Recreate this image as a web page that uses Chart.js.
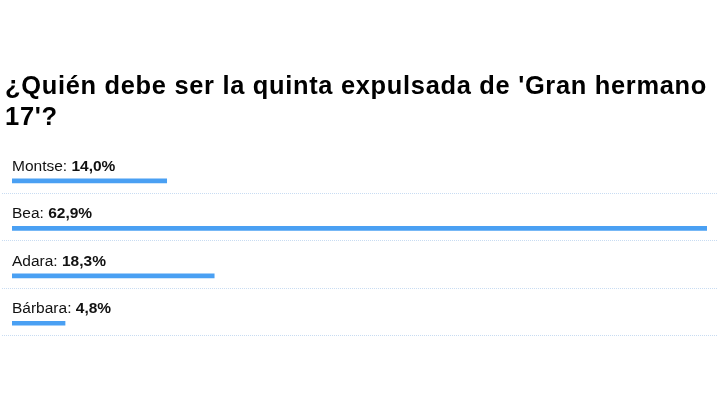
<!DOCTYPE html>
<html>
<head>
<meta charset="utf-8">
<script src="https://cdn.jsdelivr.net/npm/chart.js@4"></script>
<style>
html,body{margin:0;padding:0;background:#fff;}
#wrap{width:728px;height:400px;}
</style>
</head>
<body>
<div id="wrap"><canvas id="c" width="728" height="400"></canvas></div>
<script>
const titleLines = ["¿Quién debe ser la quinta expulsada de 'Gran hermano", "17'?"];
const categories = ["Montse", "Bea", "Adara", "Bárbara"];
const values = [14.0, 62.9, 18.3, 4.8];
const valueLabels = ["14,0%", "62,9%", "18,3%", "4,8%"];

const FONT = "'Liberation Sans', Arial, Helvetica, sans-serif";

const spacing = {
  id: 'spacing',
  beforeDraw(chart) { chart.ctx.letterSpacing = '0.7px'; },
  beforeDatasetsDraw(chart) { chart.ctx.letterSpacing = '0px'; }
};

const rowDecor = {
  id: 'rowDecor',
  afterDatasetsDraw(chart) {
    const ctx = chart.ctx;
    const y = chart.scales.y;
    const x = chart.scales.x;
    ctx.save();
    ctx.letterSpacing = '0px';
    categories.forEach((cat, i) => {
      const cy = y.getPixelForValue(i);
      const base = cy - 10;
      ctx.textBaseline = 'alphabetic';
      ctx.textAlign = 'left';
      ctx.fillStyle = '#111';
      ctx.font = "15.5px " + FONT;
      const lab = cat + ': ';
      ctx.fillText(lab, x.left, base);
      const w = ctx.measureText(lab).width;
      ctx.font = "bold 15.5px " + FONT;
      ctx.fillText(valueLabels[i], x.left + w, base);
      const sy = Math.round(cy + 12) + 0.5;
      ctx.strokeStyle = '#c8dcf2';
      ctx.lineWidth = 1;
      ctx.setLineDash([1, 1]);
      ctx.beginPath();
      ctx.moveTo(2, sy);
      ctx.lineTo(718, sy);
      ctx.stroke();
    });
    ctx.restore();
  }
};

new Chart(document.getElementById('c'), {
  type: 'bar',
  data: {
    labels: categories,
    datasets: [{
      data: values,
      backgroundColor: '#4aa0f3',
      borderWidth: 0,
      barThickness: 4,
      borderSkipped: false
    }]
  },
  options: {
    indexAxis: 'y',
    responsive: false,
    animation: false,
    devicePixelRatio: 1,
    layout: { padding: { top: 72, left: 5, right: 21, bottom: 53 } },
    plugins: {
      legend: { display: false },
      tooltip: { enabled: false },
      title: {
        display: true,
        text: titleLines,
        align: 'start',
        color: '#000',
        font: { family: FONT, size: 25.5, weight: 'bold', lineHeight: 1.2 },
        padding: { top: 0, bottom: 24 }
      }
    },
    scales: {
      x: {
        display: false,
        min: 0,
        max: 62.9
      },
      y: {
        display: true,
        grid: { display: false, drawTicks: false },
        border: { display: false },
        ticks: { display: false },
        afterFit(scale) { scale.width = 7; }
      }
    }
  },
  plugins: [spacing, rowDecor]
});
</script>
</body>
</html>
